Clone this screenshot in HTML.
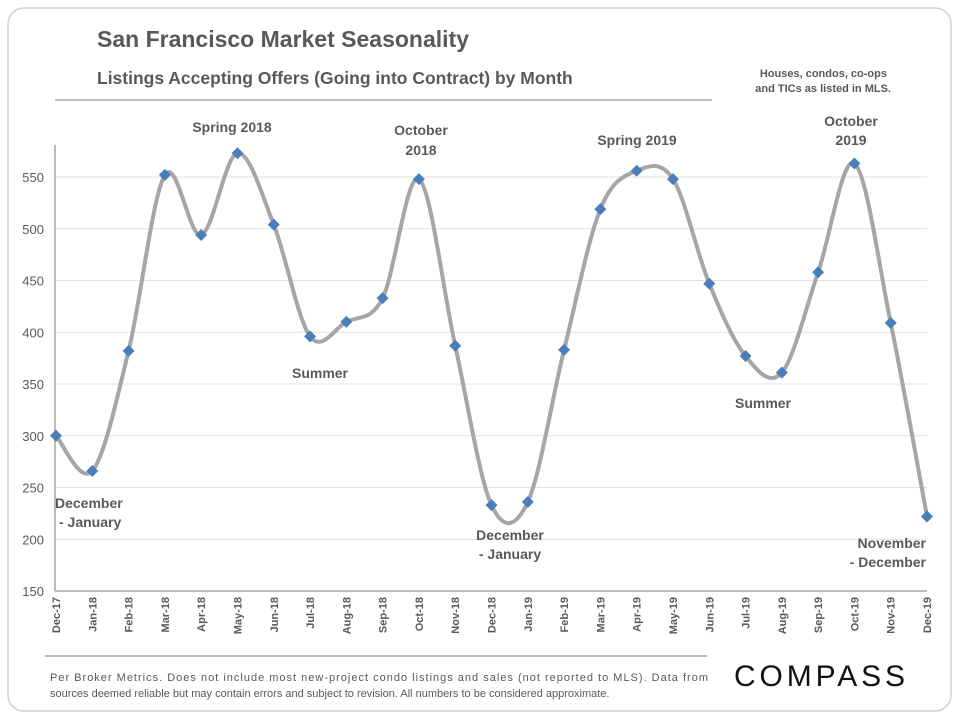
<!DOCTYPE html>
<html><head><meta charset="utf-8"><style>
body{margin:0;background:#fff;font-family:"Liberation Sans",sans-serif;}
#wrap{position:relative;width:960px;height:720px;overflow:hidden;}
</style></head><body>
<div id="wrap">
<svg id="svg" width="960" height="720" xmlns="http://www.w3.org/2000/svg" style="position:absolute;left:0;top:0">
<rect x="8" y="8" width="943" height="703" rx="16" fill="#fff" stroke="#d0d0d0" stroke-width="1.5"/>
<text x="97" y="47" font-size="23" font-weight="bold" fill="#595959">San Francisco Market Seasonality</text>
<text x="97" y="84" font-size="17.5" font-weight="bold" fill="#595959">Listings Accepting Offers (Going into Contract) by Month</text>
<line x1="55" y1="100" x2="712" y2="100" stroke="#bfbfbf" stroke-width="2"/>
<text x="887" y="77" font-size="11" font-weight="bold" fill="#595959" text-anchor="end">Houses, condos, co-ops</text>
<text x="891" y="92" font-size="11" font-weight="bold" fill="#595959" text-anchor="end">and TICs as listed in MLS.</text>
<g id="grid"></g><g id="axes"></g><path id="line" fill="none" stroke="#a6a6a6" stroke-width="4"/><g id="marks"></g>
<g font-size="14" font-weight="bold" fill="#595959">
<text x="232" y="132" text-anchor="middle">Spring 2018</text>
<text x="421" y="135" text-anchor="middle">October</text>
<text x="421" y="155" text-anchor="middle">2018</text>
<text x="320" y="378" text-anchor="middle">Summer</text>
<text x="55" y="508">December</text>
<text x="59" y="527">- January</text>
<text x="510" y="540" text-anchor="middle">December</text>
<text x="510" y="559" text-anchor="middle">- January</text>
<text x="637" y="145" text-anchor="middle">Spring 2019</text>
<text x="851" y="126" text-anchor="middle">October</text>
<text x="851" y="145" text-anchor="middle">2019</text>
<text x="763" y="408" text-anchor="middle">Summer</text>
<text x="926" y="548" text-anchor="end">November</text>
<text x="926" y="567" text-anchor="end">- December</text>
</g>
<line x1="45" y1="656" x2="707" y2="656" stroke="#bfbfbf" stroke-width="2"/>
<text x="50" y="681" font-size="11" fill="#595959" textLength="658">Per Broker Metrics. Does not include most new-project condo listings and sales (not reported to MLS). Data from</text>
<text x="50" y="697" font-size="11" fill="#595959">sources deemed reliable but may contain errors and subject to revision.  All numbers to be considered approximate.</text>
<text x="734" y="686" font-size="30" fill="#111" letter-spacing="3" textLength="174">COMPASS</text>
</svg>
</div>
<script>
const categories=["Dec-17","Jan-18","Feb-18","Mar-18","Apr-18","May-18","Jun-18","Jul-18","Aug-18","Sep-18","Oct-18","Nov-18","Dec-18","Jan-19","Feb-19","Mar-19","Apr-19","May-19","Jun-19","Jul-19","Aug-19","Sep-19","Oct-19","Nov-19","Dec-19"];
const values=[300,266,382,552,494,573,504,396,410,433,548,387,233,236,383,519,556,548,447,377,361,458,563,409,222];
const yTicks=[150,200,250,300,350,400,450,500,550];
const NS="http://www.w3.org/2000/svg";
const X0=56,X1=927,YB=591,YMIN=150,PPU=1.035;
function xs(i){return X0+i*(X1-X0)/(categories.length-1);}
function ys(v){return YB-(v-YMIN)*PPU;}
function mk(t,a,p){const e=document.createElementNS(NS,t);for(const k in a)e.setAttribute(k,a[k]);p.appendChild(e);return e;}
const grid=document.getElementById('grid'),axes=document.getElementById('axes'),marks=document.getElementById('marks');
yTicks.forEach(v=>{
  if(v>YMIN){const l=mk('line',{x1:X0,x2:X1,y1:ys(v),y2:ys(v),stroke:'#e3e3d3','stroke-width':1},grid);
  
  }
  const t=mk('text',{x:44,y:ys(v)+5,'font-size':13,fill:'#595959','text-anchor':'end'},axes);t.textContent=v;
  
  
});
const ya=mk('line',{x1:X0-1,x2:X0-1,y1:145,y2:YB,stroke:'#a6a6a6','stroke-width':1.5},axes);


const xa=mk('line',{x1:X0-1,x2:X1,y1:YB,y2:YB,stroke:'#a6a6a6','stroke-width':1.5},axes);


categories.forEach((c,i)=>{
  const t=mk('text',{x:0,y:0,'font-size':11,'font-weight':'bold',fill:'#595959','text-anchor':'end',transform:`translate(${xs(i)+4},597) rotate(-90)`},axes);t.textContent=c;
  
  
});
const pts=values.map((v,i)=>[xs(i),ys(v)]);
let d=`M${pts[0][0]},${pts[0][1]}`;
for(let i=0;i<pts.length-1;i++){
  const p0=pts[Math.max(0,i-1)],p1=pts[i],p2=pts[i+1],p3=pts[Math.min(pts.length-1,i+2)];
  const k=1/6;
  d+=` C${p1[0]+(p2[0]-p0[0])*k},${p1[1]+(p2[1]-p0[1])*k} ${p2[0]-(p3[0]-p1[0])*k},${p2[1]-(p3[1]-p1[1])*k} ${p2[0]},${p2[1]}`;
}
document.getElementById('line').setAttribute('d',d);
pts.forEach((p,i)=>{
  const s=6;
  const m=mk('polygon',{points:`${p[0]},${p[1]-s} ${p[0]+s},${p[1]} ${p[0]},${p[1]+s} ${p[0]-s},${p[1]}`,fill:'#4a7ebb'},marks);
  
  
});
</script>
</body></html>
